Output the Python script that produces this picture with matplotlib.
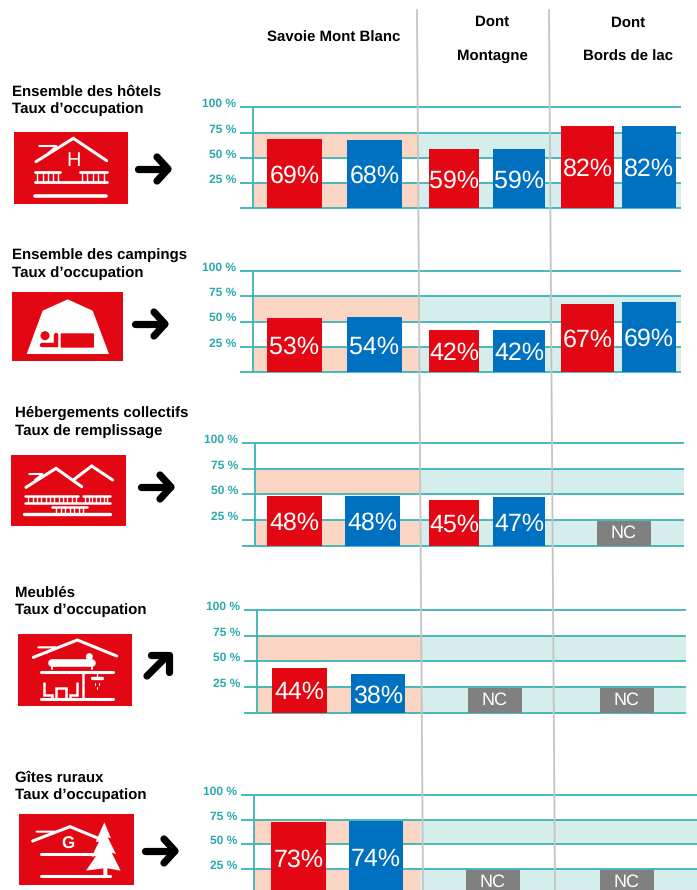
import matplotlib
matplotlib.use("Agg")
import matplotlib.pyplot as plt
from matplotlib.patches import Rectangle, Polygon, Circle, FancyBboxPatch
from matplotlib.transforms import ScaledTranslation

plt.rcParams["text.hinting"] = "none"
plt.rcParams["text.hinting_factor"] = 1

W, H = 697, 890

RED = "#E30613"
BLUE = "#0070C0"
GREY = "#808080"
TEAL = "#3BB3B5"
TEAL_TXT = "#2BA9AE"
PEACH = "#FAD5C3"
PALE = "#D6EEEB"

FONT = "Liberation Sans"

# values per panel : Savoie rouge/bleu, Montagne rouge/bleu, Lac rouge/bleu (None = NC)
hotels = [69, 68, 59, 59, 82, 82]
campings = [53, 54, 42, 42, 67, 69]
collectifs = [48, 48, 45, 47, None]
meubles = [44, 38, None, None]
gites = [73, 74, None, None]
nc_height = 24

yticks = [0, 25, 50, 75, 100]
yticklabels = ["", "25 %", "50 %", "75 %", "100 %"]

titles = [
    ("Ensemble des hôtels", "Taux d’occupation"),
    ("Ensemble des campings", "Taux d’occupation"),
    ("Hébergements collectifs", "Taux de remplissage"),
    ("Meublés", "Taux d’occupation"),
    ("Gîtes ruraux", "Taux d’occupation"),
]

# bar left/right edges in pixels, for each panel
edges_1 = [(267, 322), (347, 402), (429, 479), (493, 545), (561, 614), (622, 676)]
edges_3 = [(267, 322), (345, 400), (429, 479), (493, 545), (597, 651)]
edges_4 = [(272, 327), (351, 405), (468, 522), (600, 654)]
edges_5 = [(271, 326), (349, 403), (466, 520), (600, 654)]

panels = [
    # values, edges, y100, y0, x start, axis x, split x, x end
    (hotels, edges_1, 107.5, 208, 240, 253, 418, 681),
    (campings, edges_1, 271, 372, 240, 253, 418, 681),
    (collectifs, edges_3, 442.7, 546, 242, 255, 420, 684),
    (meubles, edges_4, 609.7, 713, 244, 257, 422, 686),
    (gites, edges_5, 795, 893.5, 241, 254, 420, 697),
]

fig = plt.figure(figsize=(W / 100, H / 100), dpi=100)
label_shift = ScaledTranslation(2 / 100, 4.5 / 100, fig.dpi_scale_trans)


def bar_color(i, v):
    if v is None:
        return GREY
    return RED if i % 2 == 0 else BLUE


for values, edges, y100, y0, xs, xa, xm, xe in panels:
    ax = fig.add_axes([xs / W, 1 - y0 / H, (xe - xs) / W, (y0 - y100) / H])
    ax.set_xlim(xs, xe)
    ax.set_ylim(0, 100)
    ax.patch.set_alpha(0)
    for s in ax.spines.values():
        s.set_visible(False)
    ax.set_xticks([])
    ax.set_yticks(yticks)
    ax.set_yticklabels(yticklabels, fontsize=8.6, fontweight="bold", color=TEAL_TXT, family=FONT)
    ax.tick_params(axis="y", length=0, pad=4)
    for lab in ax.get_yticklabels():
        lab.set_transform(lab.get_transform() + label_shift)

    for lo, hi in [(0, 25), (50, 75)]:
        ax.fill_between([xa, xm], lo, hi, color=PEACH, lw=0, zorder=1)
        ax.fill_between([xm, xe], lo, hi, color=PALE, lw=0, zorder=1)
    for t in yticks:
        ax.plot([xs, xe], [t, t], color=TEAL, lw=1.3, zorder=2, clip_on=False,
                solid_capstyle="butt")
    ax.plot([xa, xa], [0, 100], color=TEAL, lw=1.3, zorder=2)

    for i, v in enumerate(values):
        lo, hi = edges[i]
        h = nc_height if v is None else v
        ax.bar((lo + hi) / 2, h, width=hi - lo, color=bar_color(i, v), zorder=3)
        if v is None:
            ax.annotate("NC", ((lo + hi) / 2, h / 2), xytext=(0, 0), textcoords="offset points",
                        color="white", fontsize=13, ha="center", va="center", zorder=4,
                        family=FONT, annotation_clip=False)
        else:
            ax.annotate("%d%%" % v, ((lo + hi) / 2, h / 2), xytext=(0, -1.8),
                        textcoords="offset points", color="white", fontsize=18, ha="center",
                        va="center", zorder=4, family=FONT)

# overlay in pixel coordinates for headers, icons and separators
ov = fig.add_axes([0, 0, 1, 1])
ov.set_xlim(0, W)
ov.set_ylim(H, 0)
ov.axis("off")
ov.patch.set_alpha(0)

ov.plot([417, 423], [10, 890], color="#C4C4C4", lw=1.3)
ov.plot([549, 555], [10, 890], color="#C4C4C4", lw=1.3)

headers = [(334, 38, "Savoie Mont Blanc"), (492, 22, "Dont"), (492, 56, "Montagne"),
           (628, 23, "Dont"), (628, 57, "Bords de lac")]
for x, y, s in headers:
    ov.text(x, y, s, fontsize=10.7, fontweight="bold", ha="center", va="center", family=FONT)

title_pos = [(12, 92, 109), (12, 256, 273), (15, 413, 432), (15, 593, 610), (15, 778, 795)]
for (x, y1, y2), (a, b) in zip(title_pos, titles):
    ov.text(x, y1, a, fontsize=10.8, fontweight="bold", va="center", family=FONT)
    ov.text(x, y2, b, fontsize=10.8, fontweight="bold", va="center", family=FONT)


def wl(pts, ox, oy, lw=1.6, color="white"):
    ov.plot([ox + p[0] / 3 for p in pts], [oy + p[1] / 3 for p in pts], color=color, lw=lw,
            solid_capstyle="round", solid_joinstyle="miter")


def balusters(x0, x1, y0, y1, n, ox, oy):
    for k in range(n):
        x = x0 + (x1 - x0) * k / (n - 1)
        wl([(x, y0), (x, y1)], ox, oy, lw=1.0)


def red_box(x0, y0, x1, y1):
    ov.add_patch(Rectangle((x0, y0), x1 - x0, y1 - y0, color=RED, lw=0))


def arrow(pts_shaft, pts_head):
    for pts in (pts_shaft, pts_head):
        ov.plot([p[0] for p in pts], [p[1] for p in pts], color="black", lw=5.2,
                solid_capstyle="round", solid_joinstyle="round")


# hotel
red_box(14, 132, 128, 204)
o = (0, 70)
wl([(108, 275), (220, 205), (320, 272)], *o, lw=2.2)
wl([(118, 228), (170, 228), (145, 250)], *o, lw=1.5)
wl([(105, 307), (180, 307)], *o, lw=2)
wl([(240, 307), (320, 307)], *o, lw=2)
wl([(105, 336), (320, 336)], *o, lw=2)
balusters(112, 175, 310, 333, 5, *o)
balusters(245, 312, 310, 333, 5, *o)
wl([(105, 378), (318, 378)], *o, lw=2.6)
ov.text(222 / 3, 70 + 273 / 3, "H", color="white", fontsize=14.5, ha="center", va="center",
        family=FONT)
arrow([(138, 169), (167, 169)], [(157, 157), (168, 169), (157, 181)])

# camping
red_box(12, 292, 123, 361)
o = (0, 240)
ov.add_patch(Polygon([(80 / 3, 240 + 342 / 3), (128 / 3, 240 + 212 / 3), (203 / 3, 240 + 178 / 3),
                      (278 / 3, 240 + 212 / 3), (327 / 3, 240 + 342 / 3)], color="white", lw=0))
ov.add_patch(FancyBboxPatch((182 / 3 + 1, 240 + 280 / 3 + 1), 100 / 3 - 2, 43 / 3 - 2,
                            boxstyle="round,pad=1", color=RED, lw=0))
ov.add_patch(Circle((135 / 3, 240 + 287 / 3), 4.5, color=RED, lw=0))
wl([(126, 316), (168, 316), (168, 284)], *o, lw=3.2, color=RED)
arrow([(135, 324), (164, 324)], [(154, 312), (165, 324), (154, 336)])

# collectifs
red_box(11, 455, 126, 526)
o = (0, 400)
wl([(78, 262), (168, 205), (245, 260)], *o, lw=2.2)
wl([(220, 240), (275, 198), (338, 240)], *o, lw=2.2)
wl([(88, 222), (128, 222), (105, 240)], *o, lw=1.5)
wl([(75, 287), (235, 287)], *o, lw=1.8)
wl([(250, 287), (330, 287)], *o, lw=1.8)
wl([(75, 309), (330, 309)], *o, lw=1.8)
balusters(85, 228, 290, 306, 12, *o)
balusters(255, 322, 290, 306, 7, *o)
wl([(155, 322), (262, 322)], *o, lw=1.8)
wl([(72, 342), (330, 342)], *o, lw=2.4)
balusters(168, 250, 325, 339, 7, *o)
arrow([(141, 487), (170, 487)], [(160, 475), (171, 487), (160, 499)])

# meubles
red_box(18, 634, 132, 706)
o = (0, 580)
wl([(100, 232), (232, 180), (350, 228)], *o, lw=2.2)
wl([(115, 202), (168, 202), (140, 218)], *o, lw=1.5)
wl([(155, 250), (275, 250)], *o, lw=5.5)
ov.add_patch(Circle((268 / 3, 580 + 230 / 3), 3.5, color="white", lw=0))
wl([(155, 250), (155, 268)], *o, lw=1.5)
wl([(275, 250), (275, 268)], *o, lw=1.5)
wl([(122, 275), (340, 275)], *o, lw=2.2)
wl([(248, 278), (248, 358)], *o, lw=1.8)
wl([(122, 358), (340, 358)], *o, lw=2.2)
wl([(132, 310), (132, 345), (155, 345), (155, 355)], *o, lw=1.8)
wl([(232, 310), (232, 345), (210, 345), (210, 355)], *o, lw=1.8)
wl([(168, 355), (168, 325), (197, 325), (197, 355)], *o, lw=1.8)
wl([(292, 278), (292, 288)], *o, lw=1)
wl([(276, 294), (306, 294)], *o, lw=2.4)
wl([(285, 308), (285, 314)], *o, lw=0.8)
wl([(298, 308), (298, 314)], *o, lw=0.8)
wl([(292, 320), (292, 328)], *o, lw=0.8)
arrow([(147, 676), (167, 656)], [(151, 655), (169, 655), (169, 672)])

# gites
red_box(19, 814, 134, 885)
o = (0, 760)
wl([(98, 243), (210, 200), (295, 235)], *o, lw=2.2)
wl([(110, 215), (165, 215), (140, 228)], *o, lw=1.5)
ov.text(205 / 3, 760 + 252 / 3, "G", color="white", fontsize=12.5, fontweight="bold", ha="center",
        va="center", family=FONT)
wl([(122, 281), (290, 281)], *o, lw=2.2)
wl([(122, 347), (330, 347)], *o, lw=2.2)
tree = [(313, 187), (333, 235), (323, 232), (348, 282), (335, 278), (362, 332), (322, 325), (322, 346),
        (310, 346), (310, 325), (258, 332), (288, 288), (275, 290), (297, 245), (287, 246)]
ov.add_patch(Polygon([(x / 3, 760 + y / 3) for x, y in tree], color="white", lw=0))
arrow([(145, 851), (174, 851)], [(164, 839), (175, 851), (164, 863)])

fig.savefig("out.png", dpi=100)
